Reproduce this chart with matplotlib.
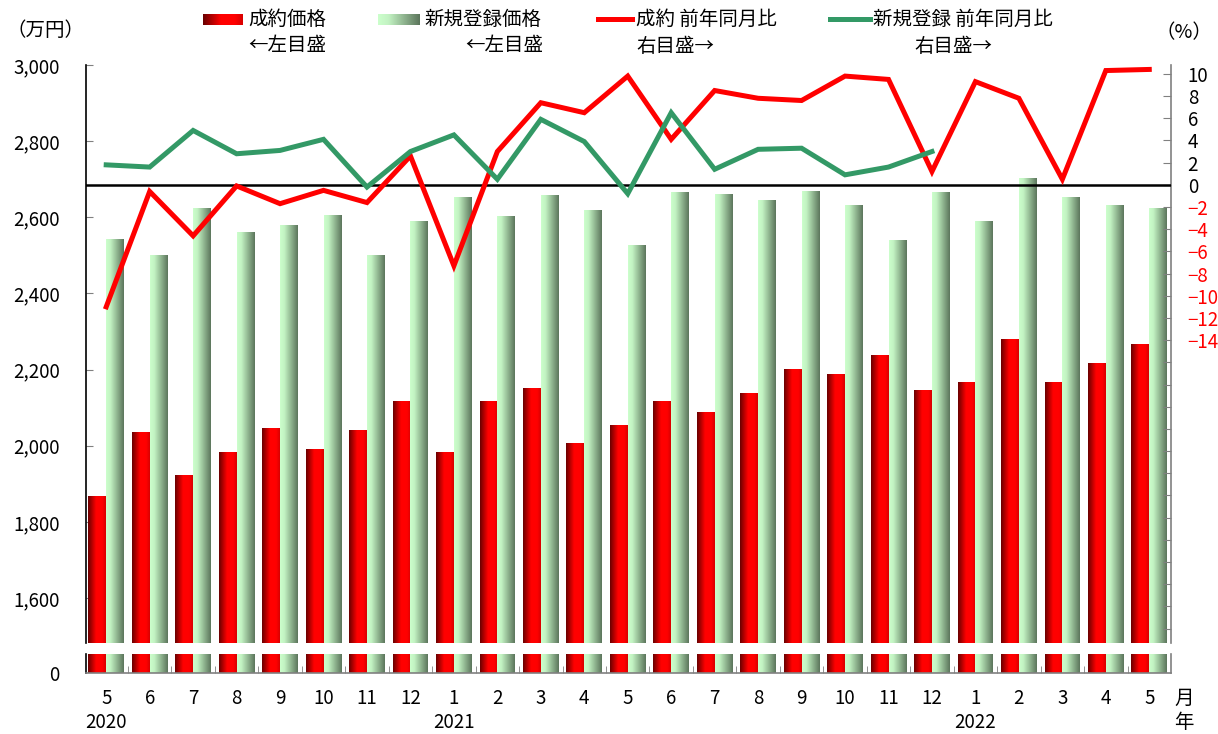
import numpy as np
import matplotlib
matplotlib.use('Agg')
import matplotlib.pyplot as plt
from matplotlib.lines import Line2D

plt.rcParams['font.family'] = ['Noto Sans CJK JP', 'DejaVu Sans']

# data
months = ['5', '6', '7', '8', '9', '10', '11', '12',
          '1', '2', '3', '4', '5', '6', '7', '8', '9', '10', '11', '12',
          '1', '2', '3', '4', '5']
years = {0: '2020', 8: '2021', 20: '2022'}
contract_price = [1868, 2036, 1923, 1981, 2046, 1991, 2041, 2115,
                  1983, 2115, 2151, 2007, 2052, 2117, 2088, 2136, 2201, 2186, 2236, 2144,
                  2167, 2280, 2165, 2215, 2267]
listing_price = [2543, 2501, 2624, 2561, 2579, 2606, 2501, 2588,
                 2653, 2601, 2656, 2619, 2527, 2666, 2661, 2643, 2669, 2630, 2540, 2666,
                 2590, 2703, 2651, 2632, 2622]
contract_yoy = [-11.0, -0.6, -4.6, -0.1, -1.7, -0.5, -1.6, 2.6,
                -7.3, 3.0, 7.4, 6.5, 9.8, 4.1, 8.5, 7.8, 7.6, 9.8, 9.5, 1.2,
                9.3, 7.8, 0.5, 10.3, 10.4]
listing_yoy = [1.8, 1.6, 4.9, 2.8, 3.1, 4.1, -0.2, 3.0,
               4.5, 0.5, 5.9, 3.9, -0.8, 6.5, 1.4, 3.2, 3.3, 0.9, 1.6, 3.0]

W, H = 1218, 734


def fr(x0, y0, x1, y1):
    # pixel box -> figure fraction
    return [x0 / W, 1 - y1 / H, (x1 - x0) / W, (y1 - y0) / H]


def grad(stops, colors, n=64):
    t = np.linspace(0, 1, n)
    rgb = np.array([matplotlib.colors.to_rgb(c) for c in colors])
    img = np.stack([np.interp(t, stops, rgb[:, k]) for k in range(3)], axis=-1)
    return img[np.newaxis, :, :]


red_grad = grad([0, 0.45, 0.8, 1], ['#6a0000', '#ff0000', '#ff0000', '#d80000'])
green_grad = grad([0, 0.25, 1], ['#ccffcc', '#c2f2c2', '#5c765c'])

fig = plt.figure(figsize=(W / 100, H / 100), dpi=100)
ax = fig.add_axes(fr(86, 65, 1171, 643))
axb = fig.add_axes(fr(86, 654, 1171, 673))

x = np.arange(len(months))
bw = 0.41
for a in (ax, axb):
    b1 = a.bar(x - 0.205, contract_price, bw, color='none', edgecolor='none')
    b2 = a.bar(x + 0.205, listing_price, bw, color='none', edgecolor='none')
    for bars, img in ((b1, red_grad), (b2, green_grad)):
        for r in bars:
            a.imshow(img, extent=[r.get_x(), r.get_x() + r.get_width(), 0, r.get_height()],
                     aspect='auto', interpolation='bilinear', zorder=2)

xlim = (-0.465, 24.5)
ax.set_xlim(*xlim)
axb.set_xlim(*xlim)
ax.set_ylim(1482, 3000)
axb.set_ylim(0, 50)

# top panel
ax.spines['top'].set_visible(False)
ax.spines['bottom'].set_visible(False)
ax.spines['right'].set_visible(False)
ax.spines['left'].set_linewidth(1.2)
ax.set_yticks(range(1600, 3001, 200), ['{:,}'.format(v) for v in range(1600, 3001, 200)])
ax.tick_params(axis='y', direction='in', length=5, color='gray', pad=19, labelsize=13.5)
ax.tick_params(axis='x', bottom=False, labelbottom=False)

# lower panel
axb.spines['top'].set_visible(False)
axb.spines['left'].set_linewidth(1.2)
axb.spines['bottom'].set_color('gray')
axb.spines['bottom'].set_linewidth(1.2)
axb.spines['right'].set_color('gray')
axb.spines['right'].set_linewidth(1.2)
axb.set_yticks([0], ['0'])
axb.tick_params(axis='y', direction='in', length=0, pad=19, labelsize=13.5)
axb.set_xticks(x, months)
axb.set_xticks(np.arange(0.5, 24, 1), minor=True)
axb.tick_params(axis='x', which='major', length=0, pad=11, labelsize=13.5)
axb.tick_params(axis='x', which='minor', direction='in', length=5, color='gray')
for i, yr in years.items():
    axb.annotate(yr, xy=(i, 0), xycoords=('data', 'axes fraction'),
                 xytext=(0, -36), textcoords='offset points',
                 ha='center', va='center', fontsize=13.5)

# right axis
ax2 = ax.twinx()
ax2.set_ylim(-41.3, 10.8)
for s in ('top', 'bottom', 'left'):
    ax2.spines[s].set_visible(False)
ax2.spines['right'].set_color('gray')
ax2.spines['right'].set_linewidth(1.2)
rticks = list(range(-40, 11, 2))
rlabels = [(str(v) if v >= 0 else '\u2212' + str(-v)) if v >= -14 else '' for v in rticks]
ax2.set_yticks(rticks, rlabels)
ax2.tick_params(axis='y', direction='in', length=6, color='gray', pad=12, labelsize=13.5)
for t, v in zip(ax2.get_yticklabels(), rticks):
    if v < 0:
        t.set_color('#ff0000')

ax2.axhline(0, color='black', lw=1.8, zorder=3)
ax2.plot(x, contract_yoy, color='#ff0000', lw=3.6, solid_joinstyle='miter', zorder=4)
ax2.plot(x[:len(listing_yoy)], listing_yoy, color='#339966', lw=3.6,
         solid_joinstyle='miter', zorder=4)

# legend (drawn by hand to follow the two-line layout)
fs = 14
pa = fig.add_axes(fr(203, 14, 243, 25))
pa.imshow(red_grad, aspect='auto', extent=[0, 1, 0, 1])
pa.axis('off')
pb = fig.add_axes(fr(378, 14, 420, 25))
pb.imshow(green_grad, aspect='auto', extent=[0, 1, 0, 1])
pb.axis('off')
fig.add_artist(Line2D([598 / W, 632 / W], [1 - 19 / H] * 2, color='#ff0000', lw=3.6))
fig.add_artist(Line2D([830 / W, 870 / W], [1 - 19 / H] * 2, color='#339966', lw=3.6))


def ftext(px, py, s, **kw):
    fig.text(px / W, 1 - py / H, s, va='center', fontsize=fs, **kw)


ftext(248, 19, '成約価格')
ftext(248, 46, '←左目盛')
ftext(424, 19, '新規登録価格')
ftext(543, 46, '←左目盛', ha='right')
ftext(636, 19, '成約 前年同月比')
ftext(636, 46, '右目盛→')
ftext(873, 19, '新規登録 前年同月比')
ftext(914, 46, '右目盛→')
ftext(6, 30, '（万円）')
ftext(1212, 33, '（%）', ha='right')
ftext(1174, 698, '月')
ftext(1174, 722, '年')

fig.savefig('out.png', dpi=100)
